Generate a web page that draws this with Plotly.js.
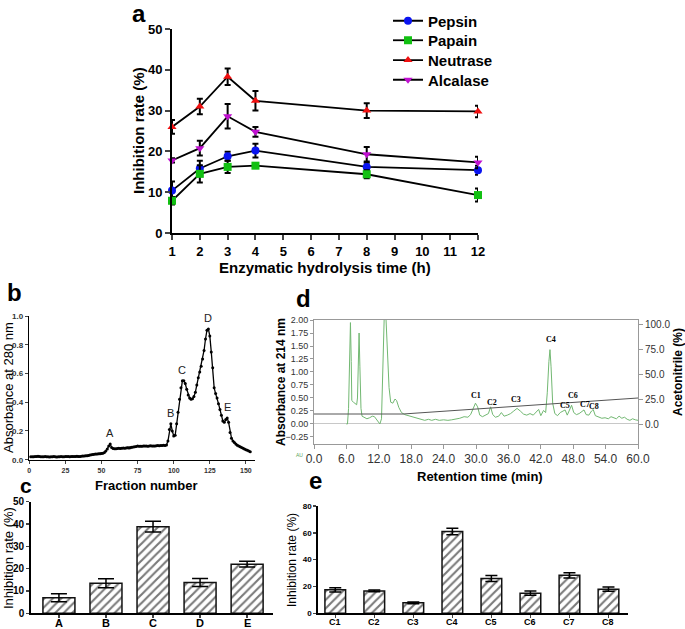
<!DOCTYPE html>
<html>
<head>
<meta charset="utf-8">
<script src="https://cdn.plot.ly/plotly-3.0.1.min.js"></script>
<style>html,body{margin:0;padding:0;background:#fff;}#chart{width:685px;height:629px;}</style>
</head>
<body>
<div id="chart"></div>
<script>
// ---------- Panel a data ----------
const hours = [1, 2, 3, 4, 8, 12];
const pepsin = [10.4, 15.8, 18.8, 20.2, 16.2, 15.4];
const pepsinErr = [2.2, 1.9, 1.1, 1.7, 1.0, 1.1];
const papain = [7.9, 14.5, 16.2, 16.5, 14.4, 9.3];
const papainErr = [0.9, 2.1, 1.5, 0.4, 1.0, 1.6];
const neutrase = [26.0, 31.0, 38.3, 32.4, 30.0, 29.8];
const neutraseErr = [1.7, 1.9, 2.0, 2.4, 1.8, 1.4];
const alcalase = [17.8, 20.8, 28.6, 24.8, 19.3, 17.3];
const alcalaseErr = [0.5, 1.8, 3.0, 1.2, 1.8, 1.4];

// ---------- Panel b data (absorbance at 280 nm per fraction, fractions 1..153) ----------
const absorbance280 = [
  0.020,0.021,0.021,0.022,0.023,0.024,0.022,0.021,0.020,0.021,
  0.022,0.021,0.020,0.019,0.020,0.021,0.022,0.020,0.019,0.020,
  0.021,0.022,0.021,0.020,0.022,0.023,0.022,0.021,0.022,0.023,
  0.022,0.023,0.024,0.023,0.022,0.024,0.025,0.026,0.027,0.028,
  0.030,0.032,0.034,0.036,0.038,0.040,0.040,0.041,0.042,0.043,
  0.045,0.050,0.060,0.075,0.095,0.110,0.085,0.078,0.076,0.077,
  0.078,0.079,0.078,0.080,0.081,0.080,0.082,0.083,0.082,0.084,
  0.086,0.088,0.090,0.092,0.095,0.094,0.093,0.094,0.095,0.096,
  0.095,0.094,0.096,0.097,0.096,0.095,0.096,0.097,0.098,0.097,
  0.098,0.099,0.100,0.098,0.102,
  0.130,0.210,0.250,0.200,0.165,0.170,0.250,0.330,0.420,0.500,
  0.550,0.550,0.530,0.490,0.450,0.430,0.420,0.425,0.440,0.470,
  0.520,0.570,0.610,0.650,0.700,0.760,0.840,0.900,0.910,0.860,
  0.750,0.640,0.500,0.460,0.430,0.390,0.350,0.310,0.270,0.260,
  0.280,0.290,0.260,0.190,0.150,0.130,0.120,0.110,0.100,0.095,
  0.090,0.085,0.080,0.075,0.070,0.065,0.060,0.055
];
const fractionNumbers = absorbance280.map((_, i) => i + 1);
const peakLabelsB = ['A', 'B', 'C', 'D', 'E'];
const peakFractionsB = [56, 98, 106, 124, 137];

// ---------- Panel c data ----------
const fractionsC = ['A', 'B', 'C', 'D', 'E'];
const inhibitionC = [7.0, 13.5, 38.8, 13.8, 22.0];
const inhibitionCErr = [1.8, 2.0, 2.4, 1.8, 1.3];

// ---------- Panel d data ----------
const retTime = [0.0,6.0,6.2,6.4,6.6,6.75,6.9,7.0,7.3,7.6,7.9,8.05,8.2,8.35,8.5,8.7,8.9,9.3,9.8,10.3,10.8,11.2,11.7,12.2,12.5,12.8,13.0,13.3,13.6,13.9,14.2,14.6,15.0,15.3,15.7,16.2,16.8,17.5,18.2,19.0,19.8,20.5,21.2,21.8,22.5,23.2,24.0,24.8,25.5,26.3,27.0,27.8,28.5,29.0,29.5,29.9,30.3,30.7,31.2,31.8,32.3,32.7,33.1,33.6,34.2,34.7,35.2,35.8,36.4,37.0,37.6,38.2,38.8,39.4,40.0,40.6,41.2,41.6,42.0,42.5,42.9,43.2,43.5,43.7,43.9,44.2,44.6,45.1,45.6,46.1,46.5,46.9,47.3,47.7,48.1,48.6,49.1,49.6,50.0,50.4,50.9,51.4,51.7,52.1,52.7,53.3,53.9,54.5,55.0,55.5,56.0,56.5,57.0,57.5,58.0,58.5,59.0,59.5,60.0];
const absorbance214 = [null,0.0,0.0,0.3,1.6,1.95,1.2,0.45,0.42,0.40,0.37,0.5,1.5,1.75,1.1,0.3,0.15,0.12,0.10,0.12,0.15,0.14,0.06,0.0,0.1,1.5,2.05,2.1,1.3,0.7,0.42,0.40,0.48,0.45,0.32,0.22,0.18,0.16,0.14,0.11,0.08,0.07,0.09,0.07,0.09,0.07,0.08,0.07,0.08,0.09,0.11,0.14,0.13,0.18,0.30,0.40,0.33,0.17,0.14,0.17,0.20,0.33,0.18,0.13,0.15,0.22,0.15,0.17,0.20,0.25,0.30,0.25,0.19,0.17,0.20,0.17,0.25,0.28,0.16,0.26,0.22,0.6,1.2,1.43,1.1,0.4,0.2,0.16,0.22,0.25,0.27,0.17,0.28,0.36,0.22,0.18,0.20,0.24,0.27,0.18,0.17,0.25,0.28,0.16,0.14,0.11,0.12,0.10,0.14,0.12,0.10,0.15,0.11,0.13,0.09,0.07,0.10,0.08,0.07];
const gradientTime = [0, 16.5, 60];
const acetonitrile = [10, 10, 26];
const peakLabelsD = ['C1', 'C2', 'C3', 'C4', 'C5', 'C6', 'C7', 'C8'];
const peakLabelTimeD = [30.0, 32.9, 37.4, 43.8, 46.4, 47.9, 50.2, 51.9];
const peakLabelAbsD = [0.54, 0.42, 0.47, 1.63, 0.36, 0.55, 0.38, 0.33];

// ---------- Panel e data ----------
const fractionsE = ['C1', 'C2', 'C3', 'C4', 'C5', 'C6', 'C7', 'C8'];
const inhibitionE = [17.5, 16.7, 7.8, 61.0, 26.0, 15.0, 28.3, 18.0];
const inhibitionEErr = [1.6, 0.7, 0.7, 2.4, 2.2, 1.6, 2.0, 1.6];

// ---------- helpers ----------
const FF = 'Arial, "Liberation Sans", sans-serif';
const W = 685, H = 629;
const px = v => v / W;
const py = v => 1 - v / H;
const bold = (size) => ({family: FF, size: size, color: '#000', weight: 'bold'});

function seriesA(name, y, err, color, symbol, legendId) {
  return {
    x: hours, y: y, name: name, type: 'scatter', mode: 'lines+markers',
    xaxis: 'x', yaxis: 'y', cliponaxis: false, legend: legendId,
    line: {color: '#000', width: 1.8},
    marker: {color: color, symbol: symbol, size: 8},
    error_y: {type: 'data', array: err, visible: true, color: '#000', thickness: 2, width: 3}
  };
}

const pattern = {shape: '/', fgcolor: '#7a7a7a', bgcolor: '#fff', size: 6, solidity: 0.35};

const traces = [
  seriesA('Pepsin', pepsin, pepsinErr, '#0a14f0', 'circle', 'legend'),
  seriesA('Papain', papain, papainErr, '#12c012', 'square', 'legend2'),
  seriesA('Neutrase', neutrase, neutraseErr, '#f01010', 'triangle-up', 'legend3'),
  seriesA('Alcalase', alcalase, alcalaseErr, '#c010d0', 'triangle-down', 'legend4'),
  {
    x: fractionNumbers, y: absorbance280, type: 'scatter', mode: 'lines+markers',
    xaxis: 'x2', yaxis: 'y2', showlegend: false, cliponaxis: false,
    line: {color: '#000', width: 1.3}, marker: {color: '#000', size: 3}
  },
  {
    x: fractionsC, y: inhibitionC, type: 'bar', xaxis: 'x3', yaxis: 'y3', showlegend: false,
    width: 0.68,
    marker: {color: '#fff', pattern: pattern, line: {color: '#111', width: 1.5}},
    error_y: {type: 'data', array: inhibitionCErr, visible: true, color: '#000', thickness: 1.5, width: 8}
  },
  {
    x: gradientTime, y: acetonitrile, type: 'scatter', mode: 'lines',
    xaxis: 'x4', yaxis: 'y5', showlegend: false,
    line: {color: '#555', width: 1}
  },
  {
    x: retTime, y: absorbance214, type: 'scatter', mode: 'lines',
    xaxis: 'x4', yaxis: 'y4', showlegend: false,
    line: {color: '#72b872', width: 1}
  },
  {
    x: fractionsE, y: inhibitionE, type: 'bar', xaxis: 'x6', yaxis: 'y6', showlegend: false,
    width: 0.53,
    marker: {color: '#fff', pattern: pattern, line: {color: '#111', width: 1.5}},
    error_y: {type: 'data', array: inhibitionEErr, visible: true, color: '#000', thickness: 1.5, width: 6}
  }
];

const baseAxis = {showgrid: false, zeroline: false, showline: true, linecolor: '#000', ticks: 'outside', fixedrange: true};

const annotations = [];
function ann(text, x, y, size, opts) {
  annotations.push(Object.assign({
    text: text, x: px(x), y: py(y), xref: 'paper', yref: 'paper',
    showarrow: false, xanchor: 'center', yanchor: 'middle',
    font: {family: FF, size: size, color: '#000'}
  }, opts || {}));
}
// panel letters
ann('a', 139, 13, 24, {font: bold(24)});
ann('b', 14, 292, 24, {font: bold(24)});
ann('c', 26, 485, 21, {font: bold(21)});
ann('d', 303, 298, 24, {font: bold(24)});
ann('e', 315, 480, 24, {font: bold(24)});
// axis titles
ann('Inhibition rate (%)', 138, 131, 15, {textangle: -90, font: bold(15)});
ann('Enzymatic hydrolysis time (h)', 325, 267, 15, {font: bold(15)});
ann('Absorbance at 280 nm', 8, 388, 13, {textangle: -90});
ann('Fraction number', 146, 485, 13, {font: bold(13)});
ann('Inhibition rate (%)', 8, 558, 13, {textangle: -90});
ann('Absorbance at 214 nm', 281, 382, 12, {textangle: -90, font: bold(12)});
ann('Acetonitrile (%)', 678, 372, 12, {textangle: -90, font: bold(12)});
ann('Retention time (min)', 480, 476, 13, {font: bold(13)});
ann('Inhibition rate (%)', 292, 560, 12, {textangle: -90});
ann('AU', 299, 455, 5, {font: {family: FF, size: 5, color: '#5aa55a'}});
// category labels for bar panels (drawn at the category positions)
fractionsC.forEach(c => {
  annotations.push({text: c, x: c, xref: 'x3', y: py(623), yref: 'paper', showarrow: false,
    yanchor: 'middle', font: bold(11)});
});
fractionsE.forEach(c => {
  annotations.push({text: c, x: c, xref: 'x6', y: py(622), yref: 'paper', showarrow: false,
    yanchor: 'middle', font: bold(9)});
});
// peak labels b
peakLabelsB.forEach((t, i) => {
  annotations.push({text: t, x: peakFractionsB[i], y: absorbance280[peakFractionsB[i] - 1],
    xref: 'x2', yref: 'y2', showarrow: false, yanchor: 'bottom', yshift: 3,
    font: {family: FF, size: 11, color: '#222'}});
});
// peak labels d
peakLabelsD.forEach((t, i) => {
  annotations.push({text: t, x: peakLabelTimeD[i], y: peakLabelAbsD[i],
    xref: 'x4', yref: 'y4', showarrow: false,
    font: {family: '"Liberation Serif", "DejaVu Serif", serif', size: 8, color: '#000', weight: 'bold'}});
});

function legendAt(rowY) {
  return {x: px(388), y: py(rowY), xanchor: 'left', yanchor: 'middle',
    font: bold(15), bgcolor: 'rgba(0,0,0,0)', itemwidth: 30};
}

const layout = {
  width: W, height: H,
  margin: {l: 0, r: 0, t: 0, b: 0},
  paper_bgcolor: '#fff', plot_bgcolor: 'rgba(0,0,0,0)',
  font: {family: FF, color: '#000'},
  showlegend: true,
  legend: legendAt(21),
  legend2: legendAt(40.5),
  legend3: legendAt(60.3),
  legend4: legendAt(80),
  // panel a
  xaxis: Object.assign({}, baseAxis, {domain: [px(172), px(478)], range: [1, 12], tickvals: [1,2,3,4,5,6,7,8,9,10,11,12],
    linewidth: 2, tickwidth: 2, ticklen: 5, anchor: 'y', tickfont: bold(13)}),
  yaxis: Object.assign({}, baseAxis, {domain: [py(233), py(29)], range: [0, 50], dtick: 10,
    linewidth: 2, tickwidth: 2, ticklen: 5, anchor: 'x', tickfont: bold(13)}),
  // panel b
  xaxis2: Object.assign({}, baseAxis, {domain: [px(29.3), px(254.6)], range: [0, 156], tickvals: [0,25,50,75,100,125,150],
    linewidth: 1.5, tickwidth: 1, ticklen: 3, anchor: 'y2', tickfont: {family: FF, size: 7, color: '#333', weight: 'bold'}}),
  yaxis2: Object.assign({}, baseAxis, {domain: [py(459.7), py(316)], range: [0, 1.0], dtick: 0.2, tickformat: '.1f',
    linewidth: 1.5, tickwidth: 1, ticklen: 3, anchor: 'x2', tickfont: {family: FF, size: 8, color: '#333', weight: 'bold'}}),
  // panel c
  xaxis3: Object.assign({}, baseAxis, {domain: [px(30.7), px(273)], range: [-0.6, 4.55], type: 'category',
    showticklabels: false, linewidth: 1.5, tickwidth: 1.5, ticklen: 3, anchor: 'y3'}),
  yaxis3: Object.assign({}, baseAxis, {domain: [py(613.3), py(501.7)], range: [0, 50], dtick: 10,
    linewidth: 1.5, tickwidth: 1.5, ticklen: 3, anchor: 'x3', tickfont: bold(10)}),
  // panel d
  xaxis4: Object.assign({}, baseAxis, {domain: [px(314), px(638)], range: [0, 60], dtick: 6, tickformat: '.1f',
    linecolor: '#999', linewidth: 1, tickcolor: '#999', ticklen: 4, mirror: true, anchor: 'y4',
    tickfont: {family: FF, size: 12, color: '#333'}}),
  yaxis4: Object.assign({}, baseAxis, {domain: [py(444), py(320)], range: [-0.385, 2.0], tick0: -0.25, dtick: 0.25, tickformat: '.2f',
    linecolor: '#999', linewidth: 1, tickcolor: '#999', ticklen: 3, mirror: true, anchor: 'x4',
    zeroline: true, zerolinecolor: '#c8c8c8', zerolinewidth: 1,
    tickfont: {family: FF, size: 9, color: '#333'}}),
  yaxis5: {overlaying: 'y4', side: 'right', anchor: 'x4', range: [-20, 104], tickvals: [0, 25, 50, 75, 100], tickformat: '.1f',
    showgrid: false, zeroline: false, showline: false, ticks: 'outside', tickcolor: '#999', ticklen: 4, fixedrange: true,
    tickfont: {family: FF, size: 10, color: '#333'}},
  // panel e
  xaxis6: Object.assign({}, baseAxis, {domain: [px(317.7), px(628)], range: [-0.45, 7.5], type: 'category',
    showticklabels: false, linewidth: 1.5, tickwidth: 1.5, ticklen: 3, anchor: 'y6'}),
  yaxis6: Object.assign({}, baseAxis, {domain: [py(613.3), py(506)], range: [0, 80], dtick: 20,
    linewidth: 1.5, tickwidth: 1.5, ticklen: 3, anchor: 'x6', tickfont: bold(8)}),
  annotations: annotations
};

Plotly.newPlot('chart', traces, layout, {staticPlot: true, displayModeBar: false});
</script>
</body>
</html>
